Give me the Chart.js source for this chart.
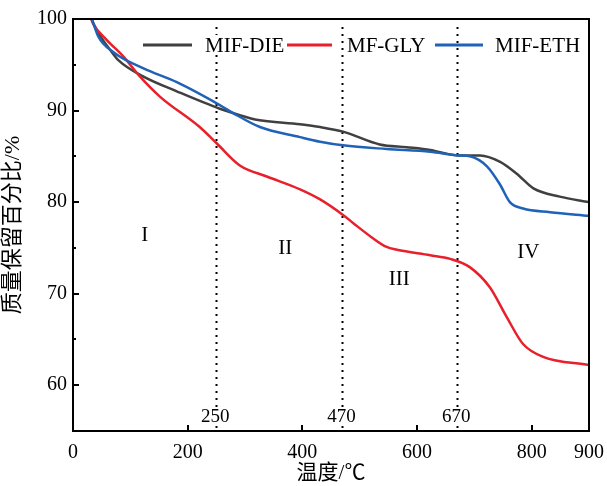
<!DOCTYPE html>
<html>
<head>
<meta charset="utf-8">
<script src="https://cdn.jsdelivr.net/npm/chart.js@4"></script>
<style>
    html, body { margin: 0; padding: 0; background: #fff; }
    #wrap { width: 607px; height: 486px; }
</style>
</head>
<body>
<div id="wrap"><canvas id="tga" width="607" height="486"></canvas></div>
<script>
// TGA curves
let xDie = [32, 41, 65, 79, 123, 181, 256, 291, 320, 396, 431, 471, 535, 582, 623, 672, 710, 745, 774, 803, 849, 900];
let yDie = [100, 98.8, 96.6, 95.5, 93.7, 92.1, 90.2, 89.5, 89.0, 88.5, 88.2, 87.7, 86.3, 86.0, 85.7, 85.1, 85.1, 84.4, 83.1, 81.5, 80.6, 80.0];

let xGly = [32, 35, 59, 88, 117, 152, 221, 251, 291, 338, 396, 431, 471, 489, 520, 547, 565, 623, 658, 692, 727, 756, 785, 820, 900];
let yGly = [100, 99.5, 97.7, 95.9, 93.7, 91.5, 88.2, 86.4, 84.0, 82.8, 81.4, 80.3, 78.6, 77.7, 76.2, 75.1, 74.8, 74.2, 73.8, 72.9, 70.7, 67.5, 64.5, 63.1, 62.2];

let xEth = [33, 44, 70, 123, 181, 256, 280, 326, 396, 431, 471, 547, 623, 672, 692, 722, 745, 762, 785, 832, 900];
let yEth = [100, 98.1, 96.4, 94.6, 93.1, 90.6, 89.7, 88.2, 87.1, 86.6, 86.2, 85.8, 85.5, 85.1, 85.0, 83.9, 81.9, 80.0, 79.3, 78.9, 78.5];

let seriesNames = ["MIF-DIE", "MF-GLY", "MIF-ETH"];
let seriesColors = ["#404040", "#e8202b", "#1f62b8"];

let xTicks = [0, 200, 400, 600, 800, 900];
let yTicks = [60, 70, 80, 90, 100];
let yMinor = [65, 75, 85, 95];

/* stage boundaries and stage labels */
let bounds = [250, 470, 670];
let stages = ["I", "II", "III", "IV"];
let stageX = [125, 370, 569, 794];
let stageY = [76.4, 74.9, 71.5, 74.5];

const serif = "'Liberation Serif', 'Times New Roman', serif";
const cjk = "'Liberation Serif', 'Noto Sans CJK SC', serif";

function pts(xs, ys) {
    return xs.map((x, i) => ({ x: x, y: ys[i] }));
}

let decor = {
    id: "decor",
    beforeDatasetsDraw(chart) {
        let ctx = chart.ctx;
        let a = chart.chartArea;
        let xs = chart.scales.x;
        let ys = chart.scales.y;

        // dotted stage lines
        ctx.save();
        ctx.strokeStyle = "#000";
        ctx.lineWidth = 2;
        ctx.setLineDash([2, 5]);
        bounds.forEach(b => {
            let px = Math.round(xs.getPixelForValue(b)) + 0.5;
            ctx.beginPath();
            ctx.moveTo(px, a.top + 8);
            ctx.lineTo(px, a.bottom);
            ctx.stroke();
        });
        ctx.restore();

        // boundary labels
        ctx.save();
        ctx.font = "19px " + serif;
        ctx.textAlign = "center";
        ctx.textBaseline = "middle";
        bounds.forEach(b => {
            let px = xs.getPixelForValue(b);
            let w = ctx.measureText(String(b)).width;
            ctx.fillStyle = "#fff";
            ctx.fillRect(px - w / 2 - 1, 408, w + 2, 18);
            ctx.fillStyle = "#000";
            ctx.fillText(String(b), px - 1, 417);
        });

        ctx.font = "21px " + serif;
        stages.forEach((s, i) => {
            ctx.fillText(s, xs.getPixelForValue(stageX[i]), ys.getPixelForValue(stageY[i]));
        });
        ctx.restore();
    },
    afterDatasetsDraw(chart) {
        let ctx = chart.ctx;
        let a = chart.chartArea;
        let xs = chart.scales.x;
        let ys = chart.scales.y;

        ctx.save();
        ctx.strokeStyle = "#000";
        ctx.lineWidth = 2;
        ctx.strokeRect(a.left, a.top, a.right - a.left, a.bottom - a.top);

        // inward ticks
        ctx.beginPath();
        xTicks.forEach(v => {
            let px = Math.round(xs.getPixelForValue(v));
            ctx.moveTo(px, a.bottom);
            ctx.lineTo(px, a.bottom - 6);
        });
        yTicks.forEach(v => {
            let py = Math.round(ys.getPixelForValue(v));
            ctx.moveTo(a.left, py);
            ctx.lineTo(a.left + 6, py);
        });
        yMinor.forEach(v => {
            let py = Math.round(ys.getPixelForValue(v));
            ctx.moveTo(a.left, py);
            ctx.lineTo(a.left + 3, py);
        });
        ctx.stroke();

        // legend
        let lineX = [[143, 192], [287, 332], [435, 483]];
        let textX = [205, 347, 495];
        ctx.font = "21px " + serif;
        ctx.textBaseline = "middle";
        ctx.lineWidth = 3;
        seriesNames.forEach((n, i) => {
            ctx.fillStyle = "#fff";
            ctx.fillRect(textX[i] - 2, 35, ctx.measureText(n).width + 4, 20);
            ctx.strokeStyle = seriesColors[i];
            ctx.beginPath();
            ctx.moveTo(lineX[i][0], 45);
            ctx.lineTo(lineX[i][1], 45);
            ctx.stroke();
            ctx.fillStyle = "#000";
            ctx.fillText(n, textX[i], 46);
        });
        ctx.restore();
    }
};

new Chart(document.getElementById("tga"), {
    type: "line",
    data: {
        datasets: [
            { label: seriesNames[0], data: pts(xDie, yDie), borderColor: seriesColors[0], order: 2 },
            { label: seriesNames[1], data: pts(xGly, yGly), borderColor: seriesColors[1], order: 1 },
            { label: seriesNames[2], data: pts(xEth, yEth), borderColor: seriesColors[2], order: 0 }
        ]
    },
    options: {
        responsive: false,
        animation: false,
        devicePixelRatio: 1,
        layout: { padding: { top: 19, right: 18, left: 0, bottom: 0 } },
        elements: {
            line: { borderWidth: 2.5, cubicInterpolationMode: "monotone", fill: false },
            point: { radius: 0 }
        },
        plugins: {
            legend: { display: false },
            tooltip: { enabled: false }
        },
        scales: {
            x: {
                type: "linear",
                min: 0,
                max: 900,
                afterBuildTicks: s => { s.ticks = xTicks.map(v => ({ value: v })); },
                afterFit: s => { s.height = 55; s.paddingRight = 0; s.paddingLeft = 0; },
                grid: { display: false, drawTicks: false },
                border: { display: false },
                ticks: { color: "#000", padding: 10, maxRotation: 0, font: { family: serif, size: 20 } },
                title: { display: true, text: "温度/℃", color: "#000", padding: 0, font: { family: cjk, size: 21 } }
            },
            y: {
                min: 55,
                max: 100,
                afterBuildTicks: s => { s.ticks = yTicks.map(v => ({ value: v })); },
                afterFit: s => { s.width = 73; s.paddingTop = 0; s.paddingBottom = 0; },
                grid: { display: false, drawTicks: false },
                border: { display: false },
                ticks: { color: "#000", padding: 6, font: { family: serif, size: 20 } },
                title: { display: true, text: "质量保留百分比/%", color: "#000", padding: { top: 0, bottom: 4 }, font: { family: cjk, size: 22 } }
            }
        }
    },
    plugins: [decor]
});
</script>
</body>
</html>
